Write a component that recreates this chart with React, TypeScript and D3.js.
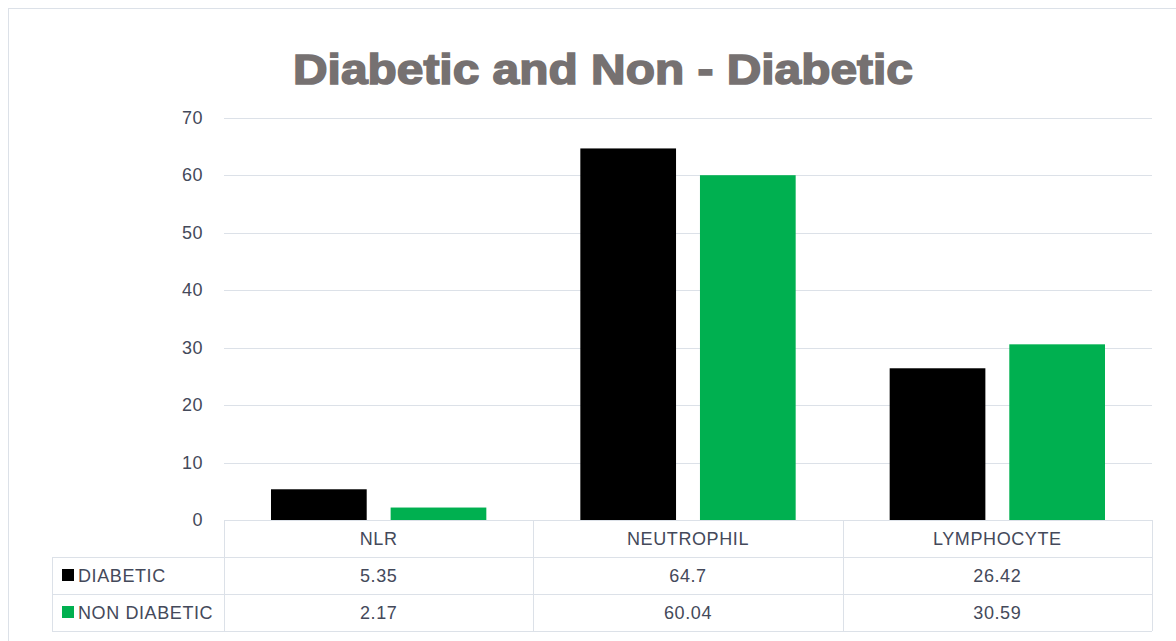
import { useRef, useEffect } from 'react';
import * as d3 from 'd3';

const categories = ['NLR', 'NEUTROPHIL', 'LYMPHOCYTE'];
const seriesNames = ['DIABETIC', 'NON DIABETIC'];
const diabetic = [5.35, 64.7, 26.42];
const nonDiabetic = [2.17, 60.04, 30.59];
const valueLabels = [
  ['5.35', '64.7', '26.42'],
  ['2.17', '60.04', '30.59'],
];
const yTicks = [0, 10, 20, 30, 40, 50, 60, 70];
const colors = ['#000000', '#00B050'];

export default function App() {
  const svgRef = useRef<SVGSVGElement>(null);

  useEffect(() => {
    if (!svgRef.current) return;
    const svg = d3.select(svgRef.current);
    svg.selectAll('*').remove();

    const width = 1176;
    const height = 641;
    const plot = { left: 224, right: 1152, top: 118, bottom: 520 };
    const rowH = 37;
    const tableLeft = 52;
    const lineColor = '#DCE1E8';
    const font = '"Liberation Sans", Arial, sans-serif';
    const textColor = '#44495A';

    // outer chart border (runs off the right/bottom edge)
    svg.append('rect')
      .attr('x', 8.5).attr('y', 8.5)
      .attr('width', width + 40).attr('height', height + 40)
      .attr('fill', '#fff')
      .attr('stroke', lineColor);

    // title
    svg.append('text')
      .attr('x', 603).attr('y', 84)
      .attr('text-anchor', 'middle')
      .attr('font-family', font)
      .attr('font-weight', 'bold')
      .attr('font-size', 43)
      .attr('fill', '#767171')
      .attr('stroke', '#767171')
      .attr('stroke-width', 1.6)
      .attr('textLength', 620)
      .attr('lengthAdjust', 'spacingAndGlyphs')
      .text('Diabetic and Non - Diabetic');

    const x0 = d3.scaleBand<string>()
      .domain(categories)
      .range([plot.left, plot.right])
      .padding(0);

    const x1 = d3.scaleBand<string>()
      .domain(seriesNames)
      .range([47, x0.bandwidth() - 47])
      .paddingInner(0.2);

    const y = d3.scaleLinear().domain([0, 70]).range([plot.bottom, plot.top]);

    // gridlines
    svg.append('g')
      .selectAll('line')
      .data(yTicks.filter((t) => t > 0))
      .join('line')
      .attr('x1', plot.left).attr('x2', plot.right)
      .attr('y1', (d) => Math.round(y(d)) + 0.5)
      .attr('y2', (d) => Math.round(y(d)) + 0.5)
      .attr('stroke', lineColor);

    // y labels
    svg.append('g')
      .selectAll('text')
      .data(yTicks)
      .join('text')
      .attr('x', 203)
      .attr('y', (d) => y(d) + 6)
      .attr('text-anchor', 'end')
      .attr('font-family', font)
      .attr('font-size', 18)
      .attr('letter-spacing', 0.5)
      .attr('fill', textColor)
      .text((d) => String(d));

    // bars
    const series = [diabetic, nonDiabetic];
    series.forEach((vals, si) => {
      svg.append('g')
        .selectAll('rect')
        .data(vals)
        .join('rect')
        .attr('x', (_d, i) => x0(categories[i])! + x1(seriesNames[si])!)
        .attr('width', x1.bandwidth())
        .attr('y', (d) => y(d))
        .attr('height', (d) => y(0) - y(d))
        .attr('fill', colors[si]);
    });

    // data table
    const t = svg.append('g')
      .attr('font-family', font)
      .attr('font-size', 18)
      .attr('letter-spacing', 0.6);
    const rowTops = [plot.bottom, plot.bottom + rowH, plot.bottom + 2 * rowH, plot.bottom + 3 * rowH];

    // horizontal lines
    t.append('line')
      .attr('x1', plot.left).attr('x2', plot.right)
      .attr('y1', rowTops[0] + 0.5).attr('y2', rowTops[0] + 0.5)
      .attr('stroke', lineColor);
    rowTops.slice(1).forEach((ry) => {
      t.append('line')
        .attr('x1', tableLeft).attr('x2', plot.right)
        .attr('y1', ry + 0.5).attr('y2', ry + 0.5)
        .attr('stroke', lineColor);
    });
    // vertical lines
    t.append('line')
      .attr('x1', tableLeft + 0.5).attr('x2', tableLeft + 0.5)
      .attr('y1', rowTops[1]).attr('y2', rowTops[3])
      .attr('stroke', lineColor);
    [...categories.map((c) => x0(c)!), plot.right].forEach((vx) => {
      t.append('line')
        .attr('x1', Math.round(vx) + 0.5).attr('x2', Math.round(vx) + 0.5)
        .attr('y1', rowTops[0]).attr('y2', rowTops[3])
        .attr('stroke', lineColor);
    });

    // header labels
    t.selectAll('text.cat')
      .data(categories)
      .join('text')
      .attr('class', 'cat')
      .attr('x', (d) => x0(d)! + x0.bandwidth() / 2)
      .attr('y', rowTops[0] + 25)
      .attr('text-anchor', 'middle')
      .attr('fill', textColor)
      .text((d) => d);

    // rows
    seriesNames.forEach((name, si) => {
      const ry = rowTops[si + 1];
      t.append('rect')
        .attr('x', 62).attr('y', ry + 12)
        .attr('width', 12).attr('height', 12)
        .attr('fill', colors[si]);
      t.append('text')
        .attr('x', 78).attr('y', ry + 25)
        .attr('fill', textColor)
        .text(name);
      t.selectAll(`text.v${si}`)
        .data(valueLabels[si])
        .join('text')
        .attr('class', `v${si}`)
        .attr('x', (_d, i) => x0(categories[i])! + x0.bandwidth() / 2)
        .attr('y', ry + 25)
        .attr('text-anchor', 'middle')
        .attr('fill', textColor)
        .text((d) => d);
    });
  }, []);

  return (
    <div style={{ position: 'fixed', left: 0, top: 0 }}>
      <svg ref={svgRef} width={1176} height={641} viewBox="0 0 1176 641" style={{ display: 'block' }} />
    </div>
  );
}
